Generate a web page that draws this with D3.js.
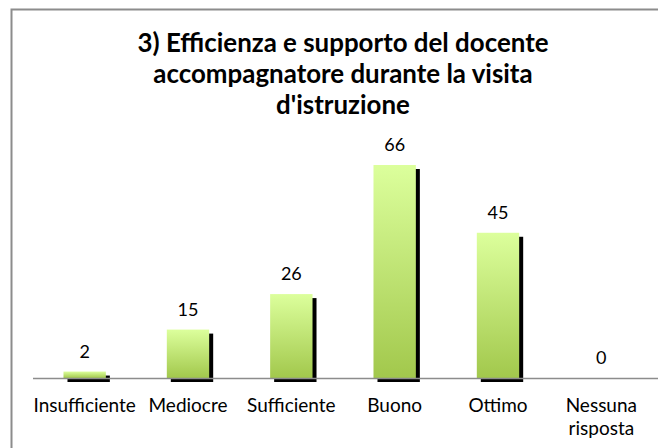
<!DOCTYPE html>
<html><head><meta charset="utf-8">
<script src="https://cdn.jsdelivr.net/npm/d3@7"></script>
<style>body{margin:0;background:#fff;}svg{display:block;font-family:Lato,"Open Sans",sans-serif;}</style>
</head><body>
<svg id="c" width="658" height="448"></svg>
<script>
const categories = ["Insufficiente","Mediocre","Sufficiente","Buono","Ottimo","Nessuna risposta"];
const values = [2,15,26,66,45,0];
const titleLines = ["3) Efficienza e supporto del docente","accompagnatore durante la visita","d'istruzione"];

const svg = d3.select("#c");
const defs = svg.append("defs");
const g = defs.append("linearGradient").attr("id","bg").attr("x1",0).attr("y1",0).attr("x2",0).attr("y2",1);
g.append("stop").attr("offset","0%").attr("stop-color","#dcff9c");
g.append("stop").attr("offset","100%").attr("stop-color","#a2c84c");

svg.append("rect").attr("x",11.5).attr("y",9.5).attr("width",700).attr("height",500)
  .attr("fill","#fff").attr("stroke","#8c8c8c").attr("stroke-width",2);

const x = d3.scaleBand().domain(categories).range([33,653]).paddingInner(0.59).paddingOuter(0.295);
const y = d3.scaleLinear().domain([0,66]).range([378,165]);

const title = svg.append("text").attr("text-anchor","middle").attr("font-weight","bold")
  .attr("font-size",25.9).attr("fill","#000");
titleLines.forEach((t,i)=>title.append("tspan").attr("x",343).attr("y",52+i*31).text(t));

const data = values.map((v,i)=>({c:categories[i],v}));
const bars = svg.append("g");
bars.selectAll("rect.s").data(data).join("rect")
  .attr("class","s").attr("x",d=>x(d.c)+4).attr("y",d=>y(d.v)+4)
  .attr("width",x.bandwidth()).attr("height",d=>y(0)-y(d.v)).attr("fill","#000")
  .attr("display",d=>d.v>0?null:"none");
bars.selectAll("rect.b").data(data).join("rect")
  .attr("class","b").attr("x",d=>x(d.c)).attr("y",d=>y(d.v))
  .attr("width",x.bandwidth()).attr("height",d=>y(0)-y(d.v)).attr("fill","url(#bg)")
  .attr("display",d=>d.v>0?null:"none");

const xAxis = d3.axisBottom(x).tickSize(0).tickPadding(0);
const ax = svg.append("g").attr("transform",`translate(0,${y(0)})`).call(xAxis)
  .attr("font-family",null).attr("font-size",null);
ax.select(".domain").attr("d","M33,0.5H658").attr("stroke","#8c8c8c").attr("stroke-width",1.5);
ax.selectAll(".tick text").attr("font-size",19).attr("fill","#000")
  .each(function(d){
    const t = d3.select(this); t.text(null).attr("dy",null).attr("y",0);
    const words = d==="Nessuna risposta" ? ["Nessuna","risposta"] : [d];
    words.forEach((w,i)=>t.append("tspan").attr("x",0).attr("y",34+i*23).text(w));
  });

svg.append("g").selectAll("text").data(data).join("text")
  .attr("x",d=>x(d.c)+x.bandwidth()/2).attr("y",d=>y(d.v)-14)
  .attr("text-anchor","middle").attr("font-size",18).attr("fill","#000").text(d=>d.v);
</script>
</body></html>
